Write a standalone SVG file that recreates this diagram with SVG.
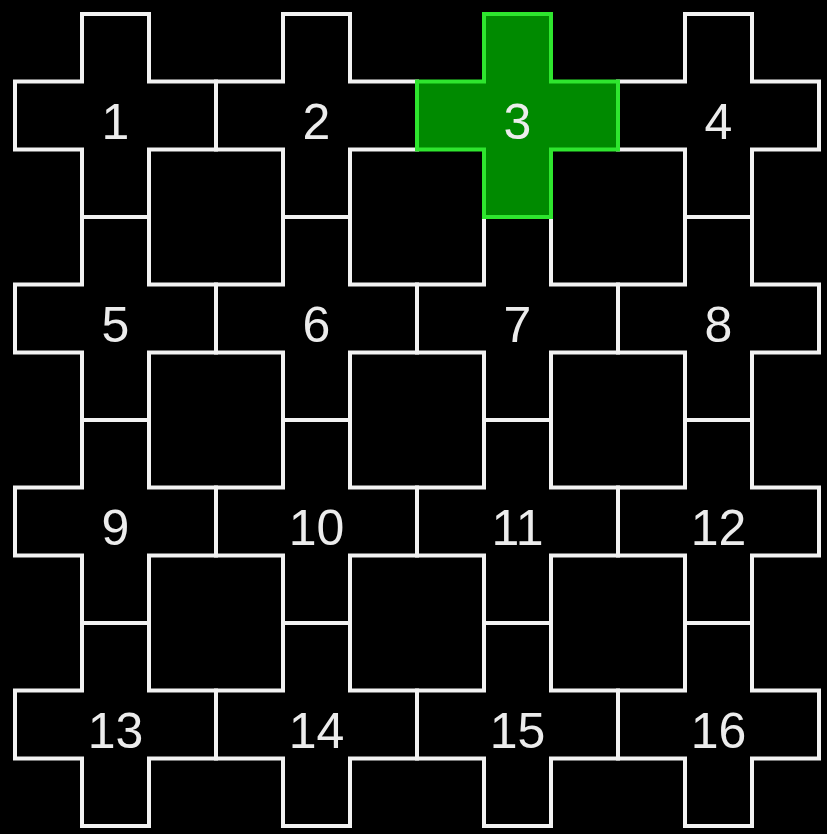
<svg xmlns="http://www.w3.org/2000/svg" xmlns:xlink="http://www.w3.org/1999/xlink" width="827" height="834" viewBox="0 0 827 834">
<style>
.c{fill:#000;stroke:#f2f2f2;stroke-width:4;stroke-linejoin:miter}
.g{fill:#008a00;stroke:#2ee62e;stroke-width:4;stroke-linejoin:miter}
.t{font-family:"Liberation Sans",Arial,sans-serif;font-size:50px;fill:#ececec;text-anchor:middle}
</style>
<defs>
<path id="cross" d="M-33.5,-101.5 H33.5 V-34 H100.5 V34 H33.5 V101.5 H-33.5 V34 H-100.5 V-34 H-33.5 Z"/>
</defs>
<rect width="827" height="834" fill="#000"/>
<g id="connectors"/>
<g id="n1" transform="translate(115.5,115.5)"><use xlink:href="#cross" class="c"/><text class="t" y="23">1</text></g>
<g id="n2" transform="translate(316.5,115.5)"><use xlink:href="#cross" class="c"/><text class="t" y="23">2</text></g>
<g id="n4" transform="translate(718.5,115.5)"><use xlink:href="#cross" class="c"/><text class="t" y="23">4</text></g>
<g id="n5" transform="translate(115.5,318.5)"><use xlink:href="#cross" class="c"/><text class="t" y="23">5</text></g>
<g id="n6" transform="translate(316.5,318.5)"><use xlink:href="#cross" class="c"/><text class="t" y="23">6</text></g>
<g id="n7" transform="translate(517.5,318.5)"><use xlink:href="#cross" class="c"/><text class="t" y="23">7</text></g>
<g id="n8" transform="translate(718.5,318.5)"><use xlink:href="#cross" class="c"/><text class="t" y="23">8</text></g>
<g id="n9" transform="translate(115.5,521.5)"><use xlink:href="#cross" class="c"/><text class="t" y="23">9</text></g>
<g id="n10" transform="translate(316.5,521.5)"><use xlink:href="#cross" class="c"/><text class="t" y="23">10</text></g>
<g id="n11" transform="translate(517.5,521.5)"><use xlink:href="#cross" class="c"/><text class="t" y="23">11</text></g>
<g id="n12" transform="translate(718.5,521.5)"><use xlink:href="#cross" class="c"/><text class="t" y="23">12</text></g>
<g id="n13" transform="translate(115.5,724.5)"><use xlink:href="#cross" class="c"/><text class="t" y="23">13</text></g>
<g id="n14" transform="translate(316.5,724.5)"><use xlink:href="#cross" class="c"/><text class="t" y="23">14</text></g>
<g id="n15" transform="translate(517.5,724.5)"><use xlink:href="#cross" class="c"/><text class="t" y="23">15</text></g>
<g id="n16" transform="translate(718.5,724.5)"><use xlink:href="#cross" class="c"/><text class="t" y="23">16</text></g>
<g id="n3" transform="translate(517.5,115.5)"><use xlink:href="#cross" class="g"/><text class="t" y="23">3</text></g>
</svg>
